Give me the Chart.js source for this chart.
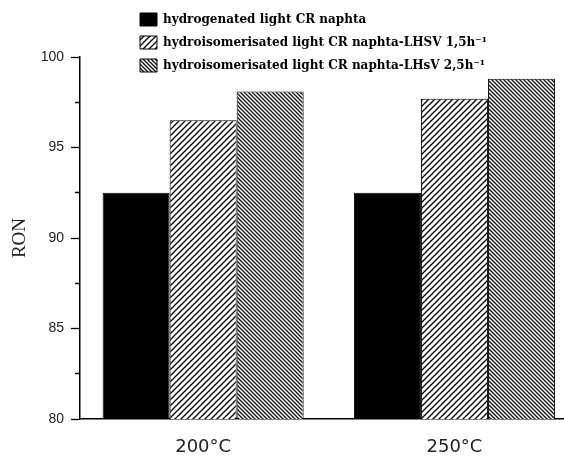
<!DOCTYPE html>
<html>
<head>
<meta charset="utf-8">
<script src="https://cdn.jsdelivr.net/npm/chart.js@4.4.1/dist/chart.umd.min.js"></script>
<style>
  html, body { margin: 0; padding: 0; background: #fff; }
  #wrap { width: 564px; height: 457px; }
</style>
</head>
<body>
<div id="wrap"><canvas id="c" width="564" height="457"></canvas></div>
<script>
// data
const temperatures = [200, 250];
const hydrogenated = [92.5, 92.5];
const lhsv15 = [96.5, 97.7];
const lhsv25 = [98.1, 98.8];
const seriesNames = [
    'hydrogenated light CR naphta',
    'hydroisomerisated light CR naphta-LHSV 1,5h\u207B\u00B9',
    'hydroisomerisated light CR naphta-LHsV 2,5h\u207B\u00B9'
];
const yMajorTicks = [80, 85, 90, 95, 100];
const yMinorTicks = [82.5, 87.5, 92.5, 97.5];

const ctx = document.getElementById('c').getContext('2d');

// small tiles for the hatched fills
function hatch(size, dir, width, color) {
    const c = document.createElement('canvas');
    c.width = c.height = size;
    const g = c.getContext('2d');
    g.fillStyle = '#fff';
    g.fillRect(0, 0, size, size);
    g.strokeStyle = color;
    g.lineWidth = width;
    g.beginPath();
    if (dir > 0) {
        g.moveTo(-1, size + 1); g.lineTo(size + 1, -1);
        g.moveTo(-1, 1); g.lineTo(1, -1);
        g.moveTo(size - 1, size + 1); g.lineTo(size + 1, size - 1);
    } else {
        g.moveTo(-1, -1); g.lineTo(size + 1, size + 1);
        g.moveTo(size - 1, -1); g.lineTo(size + 1, 1);
        g.moveTo(-1, size - 1); g.lineTo(1, size + 1);
    }
    g.stroke();
    return ctx.createPattern(c, 'repeat');
}

const toPoints = vals => temperatures.map((t, i) => ({ x: t, y: vals[i] }));

// put the vertical legend up in the top margin
const legendPlace = {
    id: 'legendPlace',
    afterLayout(chart) {
        chart.legend.left = 130;
        chart.legend.top = 3;
    }
};

new Chart(ctx, {
    type: 'bar',
    data: {
        datasets: [
            { label: seriesNames[0], data: toPoints(hydrogenated), backgroundColor: '#000' },
            { label: seriesNames[1], data: toPoints(lhsv15), backgroundColor: hatch(6, 1, 1.3, '#000') },
            { label: seriesNames[2], data: toPoints(lhsv25), backgroundColor: hatch(4, -1, 1.3, '#111') }
        ]
    },
    options: {
        responsive: false,
        animation: false,
        layout: { padding: { top: 57, right: 0, bottom: 0, left: 0 } },
        datasets: {
            bar: { borderColor: '#000', borderWidth: 1, categoryPercentage: 0.8, barPercentage: 1.0 }
        },
        plugins: {
            tooltip: { enabled: false },
            legend: {
                position: 'chartArea',
                align: 'start',
                labels: {
                    boxWidth: 17,
                    boxHeight: 13,
                    padding: 10,
                    color: '#000',
                    font: { family: 'DejaVu Serif', size: 12, weight: 'bold' }
                }
            }
        },
        scales: {
            x: {
                type: 'linear',
                offset: false,
                min: 175.5,
                max: 271.8,
                afterFit(s) { s.height = 38; },
                afterBuildTicks(s) { s.ticks = temperatures.map(v => ({ value: v })); },
                ticks: {
                    autoSkip: false,
                    maxRotation: 0,
                    padding: 18,
                    color: '#222',
                    font: { family: 'DejaVu Sans', size: 18 },
                    callback: v => v + '\u00B0C'
                },
                grid: { display: false, drawTicks: false, offset: false },
                border: { display: true, color: '#000', width: 1.5 }
            },
            y: {
                min: 80,
                max: 100,
                afterFit(s) { s.width = 80; },
                afterBuildTicks(s) {
                    s.ticks = yMajorTicks.concat(yMinorTicks).sort((a, b) => a - b).map(v => ({ value: v }));
                },
                ticks: {
                    autoSkip: false,
                    padding: 7,
                    color: '#222',
                    font: { family: 'Liberation Sans', size: 14 },
                    callback: v => (yMajorTicks.includes(v) ? v : '')
                },
                grid: {
                    drawOnChartArea: false,
                    tickLength: 9,
                    tickColor: '#000',
                    tickWidth: 1.3,
                    tickBorderDash: c => (yMinorTicks.includes(c.tick.value) ? [0, 4, 10, 0] : [])
                },
                border: { color: '#000', width: 1.5 },
                title: {
                    display: true,
                    text: 'RON',
                    color: '#222',
                    font: { family: 'Liberation Serif', size: 19 },
                    padding: { top: 9, bottom: 0 }
                }
            }
        }
    },
    plugins: [legendPlace]
});
</script>
</body>
</html>
